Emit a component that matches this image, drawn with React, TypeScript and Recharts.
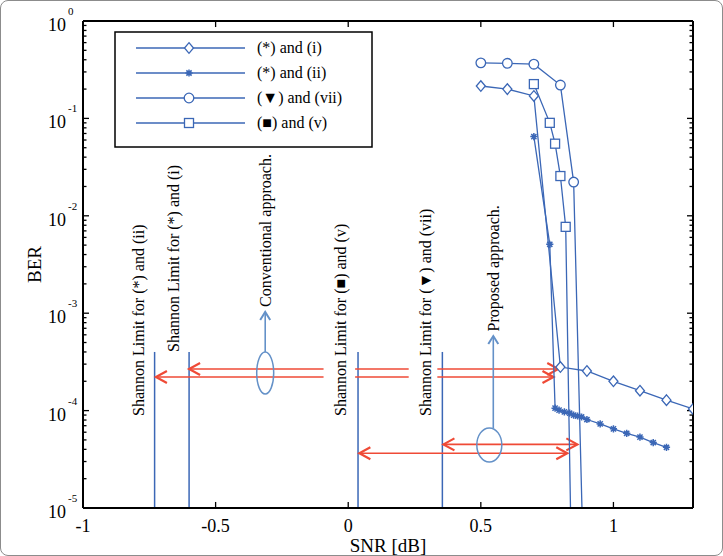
import React from 'react';
import {
  LineChart,
  Line,
  XAxis,
  YAxis,
  ReferenceLine,
  ReferenceDot,
  Legend,
  Label,
} from 'recharts';

const FONT = '"Liberation Serif", "Times New Roman", Times, serif';
const CURVE = '#3B67B6';
const ARROW_RED = '#EF4A36';
const NOTE_BLUE = '#6491C8';

// SNR [dB] sample points and measured bit error rates for each scheme
const snrI = [0.5, 0.6, 0.7, 0.8, 0.9, 1.0, 1.1, 1.2, 1.3];
const berI = [0.215, 0.2, 0.17, 2.8e-4, 2.55e-4, 2.0e-4, 1.6e-4, 1.28e-4, 1.04e-4];

const snrII = [0.7, 0.76, 0.78, 0.795, 0.815, 0.835, 0.85, 0.865, 0.88, 0.9, 0.95, 1.0, 1.05, 1.1, 1.15, 1.2];
const berII = [0.065, 0.0051, 1.06e-4, 1.01e-4, 9.7e-5, 9.4e-5, 9.0e-5, 8.8e-5, 8.6e-5, 8.1e-5, 7.3e-5, 6.5e-5, 5.85e-5, 5.35e-5, 4.7e-5, 4.2e-5];

const snrVII = [0.5, 0.6, 0.7, 0.8, 0.85, 0.9];
const berVII = [0.372, 0.368, 0.36, 0.22, 0.0222, 1e-7];

const snrV = [0.7, 0.76, 0.78, 0.8, 0.82, 0.84];
const berV = [0.225, 0.09, 0.055, 0.0256, 0.0077, 5e-6];

const seriesNames = ['(*) and (i)', '(*) and (ii)', '(\u25BC) and (vii)', '(\u25A0) and (v)'];
const seriesMarkers = ['diamond', 'star', 'circle', 'square'];

// Axis ticks (y axis works in log10(BER))
const xTicks = [-1, -0.5, 0, 0.5, 1];
const decades = [-5, -4, -3, -2, -1, 0];
const minorMultipliers = [2, 3, 4, 5, 6, 7, 8, 9];
const xDomain = [-1, 1.3];
const yDomain = [-5, 0];

// Inward tick mark lengths, in axis units (about 6 px major / 3.5 px minor)
const yTickLenMajor = 0.0226;
const yTickLenMinor = 0.0132;
const xTickLen = 0.062;

// Shannon limits [dB] drawn as vertical markers rising from the x axis
const shannonLimits = [-0.73, -0.6, 0.037, 0.355];
const shannonTopBer = 4e-4;

// Rotated annotation texts, anchored at the start of each text
const noteTexts = ['Shannon Limit for (*) and (ii)', 'Shannon Limit for (*) and (i)', 'Conventional approach.', 'Shannon Limit for (\u25A0) and (v)', 'Shannon Limit for (\u25BC) and (vii)', 'Proposed approach.'];
const noteSnr = [-0.792, -0.66, -0.313, -0.028, 0.291, 0.547];
const noteBer = [8.8e-5, 4.0e-4, 1.16e-3, 8.8e-5, 8.8e-5, 6.5e-4];

// Red gap arrows
const gapFrom = [-0.6, 0.026, 0.336, -0.725, 0.026, 0.336, 0.359, 0.042];
const gapTo = [-0.093, 0.228, 0.792, -0.093, 0.228, 0.774, 0.864, 0.826];
const gapBer = [2.67e-4, 2.67e-4, 2.67e-4, 2.21e-4, 2.21e-4, 2.21e-4, 4.5e-5, 3.65e-5];
const gapHeads = ['start', 'none', 'end', 'start', 'none', 'end', 'both', 'both'];

// Grouping ellipses with pointer arrows
const groupSnr = [-0.313, 0.532];
const groupBer = [2.43e-4, 4.44e-5];
const groupRx = [8.5, 12.5];
const groupRy = [21, 17];
const pointerSnr = [-0.313, 0.547];
const pointerFromBer = [4.0e-4, 6.6e-5];
const pointerToBer = [1.03e-3, 5.83e-4];

const toPoints = (snr: number[], ber: number[]) =>
  snr.map((x, i) => ({ snr: x, logBer: Math.log10(ber[i]) }));

const series = [
  { name: seriesNames[0], marker: seriesMarkers[0], data: toPoints(snrI, berI) },
  { name: seriesNames[1], marker: seriesMarkers[1], data: toPoints(snrII, berII) },
  { name: seriesNames[2], marker: seriesMarkers[2], data: toPoints(snrVII, berVII) },
  { name: seriesNames[3], marker: seriesMarkers[3], data: toPoints(snrV, berV) },
];

const yTicks: number[] = [];
decades.forEach((d) => {
  yTicks.push(d);
  if (d < 0) minorMultipliers.forEach((k) => yTicks.push(d + Math.log10(k)));
});

const isMajor = (v: number) => Math.abs(v - Math.round(v)) < 1e-9;

// Tick mark segments on all four sides of the box
const tickSegments: { x1: number; y1: number; x2: number; y2: number }[] = [];
yTicks.forEach((v) => {
  if (v <= yDomain[0] || v >= yDomain[1]) return;
  const len = isMajor(v) ? yTickLenMajor : yTickLenMinor;
  tickSegments.push({ x1: xDomain[0], y1: v, x2: xDomain[0] + len, y2: v });
  tickSegments.push({ x1: xDomain[1], y1: v, x2: xDomain[1] - len, y2: v });
});
xTicks.forEach((v) => {
  if (v <= xDomain[0]) return;
  tickSegments.push({ x1: v, y1: yDomain[0], x2: v, y2: yDomain[0] + xTickLen });
  tickSegments.push({ x1: v, y1: yDomain[1], x2: v, y2: yDomain[1] - xTickLen });
});

function Marker({ kind, cx, cy }: { kind: string; cx: number; cy: number }) {
  const common = { stroke: CURVE, strokeWidth: 1.3, fill: '#fff' };
  if (kind === 'diamond') {
    return <path d={`M${cx},${cy - 5.3} L${cx + 4.5},${cy} L${cx},${cy + 5.3} L${cx - 4.5},${cy} Z`} {...common} />;
  }
  if (kind === 'circle') {
    return <circle cx={cx} cy={cy} r={4.8} {...common} />;
  }
  if (kind === 'square') {
    return <rect x={cx - 4.5} y={cy - 4.5} width={9} height={9} {...common} />;
  }
  const s = 3.6;
  const d = 2.6;
  return (
    <path
      d={`M${cx - s},${cy} L${cx + s},${cy} M${cx},${cy - s} L${cx},${cy + s} M${cx - d},${cy - d} L${cx + d},${cy + d} M${cx - d},${cy + d} L${cx + d},${cy - d}`}
      stroke={CURVE}
      strokeWidth={1.5}
      fill="none"
    />
  );
}

const makeDot = (kind: string) => (p: any) => {
  const key = `dot-${kind}-${p.index}`;
  if (p.cx == null || p.cy == null || p.payload.logBer < yDomain[0]) return <g key={key} />;
  return (
    <g key={key}>
      <Marker kind={kind} cx={p.cx} cy={p.cy} />
    </g>
  );
};

function headPath(tx: number, ty: number, ux: number, uy: number, len: number, half: number) {
  const bx = tx - ux * len;
  const by = ty - uy * len;
  const px = -uy;
  const py = ux;
  return `M${bx + px * half},${by + py * half} L${tx},${ty} L${bx - px * half},${by - py * half}`;
}

const arrowShape = (heads: string, color: string, width: number, len: number, half: number, headWidth: number) => (p: any) => {
  const { x1, y1, x2, y2 } = p;
  const dx = x2 - x1;
  const dy = y2 - y1;
  const L = Math.hypot(dx, dy) || 1;
  const ux = dx / L;
  const uy = dy / L;
  return (
    <g>
      <line x1={x1} y1={y1} x2={x2} y2={y2} stroke={color} strokeWidth={width} />
      {(heads === 'end' || heads === 'both') && (
        <path d={headPath(x2, y2, ux, uy, len, half)} fill="none" stroke={color} strokeWidth={headWidth} />
      )}
      {(heads === 'start' || heads === 'both') && (
        <path d={headPath(x1, y1, -ux, -uy, len, half)} fill="none" stroke={color} strokeWidth={headWidth} />
      )}
    </g>
  );
};

const leftTick = (p: any) => {
  const { x, y, payload } = p;
  const v = payload.value;
  if (!isMajor(v)) return <g />;
  return (
    <g fontFamily={FONT} fill="#000">
      <text x={x - 17} y={y + 10} fontSize={18} textAnchor="end">10</text>
      <text x={x - 15} y={y - 6} fontSize={11} textAnchor="start">{String(Math.round(v))}</text>
    </g>
  );
};

const bottomTick = (p: any) => {
  const { x, y, payload } = p;
  return (
    <text x={x} y={y + 24} fontSize={18} fontFamily={FONT} textAnchor="middle" fill="#000">
      {String(payload.value)}
    </text>
  );
};

const noTick = () => <g />;

function LegendBox() {
  return (
    <svg width={260} height={118} style={{ display: 'block' }}>
      <rect x={1} y={1} width={257} height={115} fill="#fff" stroke="#000" strokeWidth={1.5} />
      {series.map((s, i) => {
        const y = 17 + i * 25;
        return (
          <g key={s.name}>
            <line x1={22} x2={131} y1={y} y2={y} stroke={CURVE} strokeWidth={1.3} />
            <Marker kind={s.marker} cx={75} cy={y} />
            <text x={143} y={y + 5} fontSize={16} fontFamily={FONT} fill="#000">
              {s.name}
            </text>
          </g>
        );
      })}
    </svg>
  );
}

export default function App() {
  return (
    <div style={{ position: 'absolute', left: 0, top: 0, width: 723, height: 556, background: '#fff' }}>
      <LineChart width={723} height={556} margin={{ top: 0, right: 0, bottom: 0, left: 0 }}>
        <XAxis
          dataKey="snr"
          type="number"
          domain={xDomain}
          ticks={xTicks}
          interval={0}
          allowDataOverflow
          height={48}
          tickSize={0}
          tickMargin={0}
          tickLine={false}
          axisLine={{ stroke: '#000', strokeWidth: 2 }}
          tick={bottomTick}
        >
          <Label
            content={(p: any) => {
              const vb = p.viewBox;
              return (
                <text x={vb.x + vb.width / 2} y={vb.y + 44} fontSize={19} fontFamily={FONT} textAnchor="middle" fill="#000">
                  SNR [dB]
                </text>
              );
            }}
          />
        </XAxis>
        <XAxis
          xAxisId="top"
          orientation="top"
          type="number"
          domain={xDomain}
          ticks={xTicks}
          interval={0}
          allowDataOverflow
          height={21}
          tickSize={0}
          tickMargin={0}
          tickLine={false}
          axisLine={{ stroke: '#000', strokeWidth: 2 }}
          tick={noTick}
        />
        <YAxis
          type="number"
          domain={yDomain}
          ticks={yTicks}
          interval={0}
          allowDataOverflow
          width={83}
          tickSize={0}
          tickMargin={0}
          tickLine={false}
          axisLine={{ stroke: '#000', strokeWidth: 2 }}
          tick={leftTick}
        >
          <Label
            content={(p: any) => {
              const vb = p.viewBox;
              const cx = vb.x + 41;
              const cy = vb.y + vb.height / 2;
              return (
                <text x={cx} y={cy} transform={`rotate(-90 ${cx} ${cy})`} fontSize={19} fontFamily={FONT} textAnchor="middle" fill="#000">
                  BER
                </text>
              );
            }}
          />
        </YAxis>
        <YAxis
          yAxisId="right"
          orientation="right"
          type="number"
          domain={yDomain}
          ticks={yTicks}
          interval={0}
          allowDataOverflow
          width={30}
          tickSize={0}
          tickMargin={0}
          tickLine={false}
          axisLine={{ stroke: '#000', strokeWidth: 2 }}
          tick={noTick}
        />

        {tickSegments.map((t, i) => (
          <ReferenceLine
            key={`tick-${i}`}
            segment={[
              { x: t.x1, y: t.y1 },
              { x: t.x2, y: t.y2 },
            ]}
            stroke="#000"
            strokeWidth={1.3}
            ifOverflow="visible"
          />
        ))}

        {shannonLimits.map((s, i) => (
          <ReferenceLine
            key={`shannon-${i}`}
            segment={[
              { x: s, y: Math.log10(shannonTopBer) },
              { x: s, y: yDomain[0] },
            ]}
            stroke={CURVE}
            strokeWidth={1.5}
            ifOverflow="visible"
          />
        ))}

        {gapFrom.map((from, i) => (
          <ReferenceLine
            key={`gap-${i}`}
            segment={[
              { x: from, y: Math.log10(gapBer[i]) },
              { x: gapTo[i], y: Math.log10(gapBer[i]) },
            ]}
            ifOverflow="visible"
            shape={arrowShape(gapHeads[i], ARROW_RED, 1.6, 11, 6, 2.2)}
          />
        ))}

        {groupSnr.map((s, i) => (
          <ReferenceDot
            key={`group-${i}`}
            x={s}
            y={Math.log10(groupBer[i])}
            r={1}
            ifOverflow="visible"
            shape={(p: any) => (
              <ellipse cx={p.cx} cy={p.cy} rx={groupRx[i]} ry={groupRy[i]} fill="none" stroke={NOTE_BLUE} strokeWidth={1.5} />
            )}
          />
        ))}

        {pointerSnr.map((s, i) => (
          <ReferenceLine
            key={`pointer-${i}`}
            segment={[
              { x: s, y: Math.log10(pointerFromBer[i]) },
              { x: s, y: Math.log10(pointerToBer[i]) },
            ]}
            ifOverflow="visible"
            shape={arrowShape('end', NOTE_BLUE, 1.6, 8, 5, 2)}
          />
        ))}

        {noteTexts.map((t, i) => (
          <ReferenceDot
            key={`note-${i}`}
            x={noteSnr[i]}
            y={Math.log10(noteBer[i])}
            r={1}
            ifOverflow="visible"
            shape={(p: any) => (
              <text
                x={p.cx}
                y={p.cy}
                dy="0.35em"
                transform={`rotate(-90 ${p.cx} ${p.cy})`}
                fontSize={16}
                fontFamily={FONT}
                textAnchor="start"
                fill="#000"
              >
                {t}
              </text>
            )}
          />
        ))}

        {series.map((s) => (
          <Line
            key={s.name}
            name={s.name}
            data={s.data}
            dataKey="logBer"
            type="linear"
            stroke={CURVE}
            strokeWidth={1.3}
            dot={makeDot(s.marker)}
            activeDot={false}
            isAnimationActive={false}
          />
        ))}

        <Legend
          layout="vertical"
          verticalAlign="middle"
          align="center"
          wrapperStyle={{ left: 114, top: 31, width: 260, height: 118 }}
          content={() => <LegendBox />}
        />
      </LineChart>
      <div
        style={{
          position: 'absolute',
          left: 0,
          top: 0,
          width: 723,
          height: 556,
          boxSizing: 'border-box',
          border: '1px solid #8c8c8c',
          borderRadius: 8,
          pointerEvents: 'none',
        }}
      />
    </div>
  );
}
